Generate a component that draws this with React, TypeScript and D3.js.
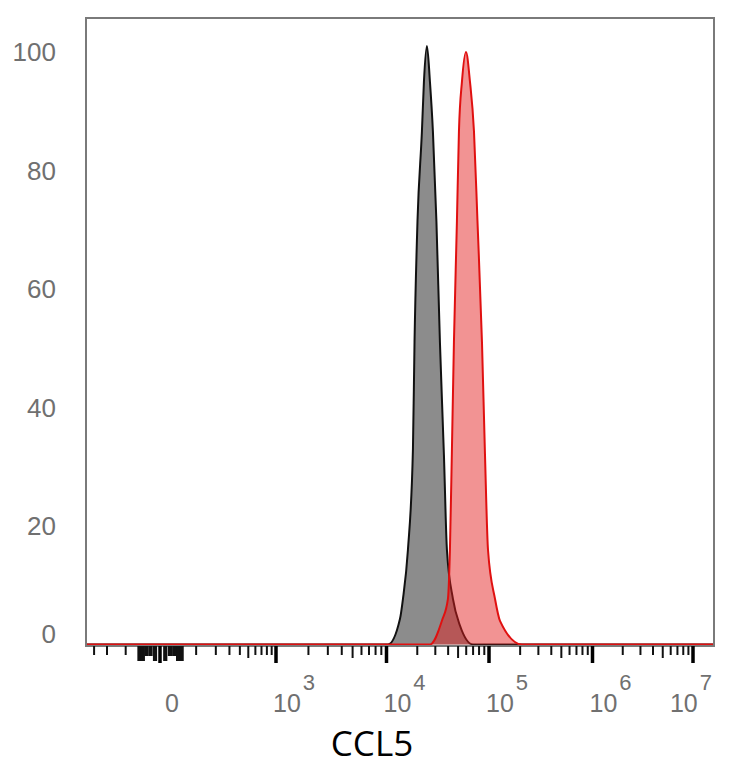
import { useMemo } from "react";
import * as d3 from "d3";

// Histogram outlines (fluorescence value, % of max)
const X_MIN = -380;
const X_MAX = 1.6e7;

const CONTROL_X = [X_MIN, 10340, 13540, 14490, 16210, 18140, 18800, 20100, 22200, 23230, 24850, 26580, 28420, 30740, 33270, 36390, 38920, 44550, 52130, 69830, X_MAX];
const CONTROL_Y = [0, 0, 4.3, 7.7, 16, 33, 51, 71.5, 86.6, 95, 101, 95, 86.6, 71.5, 51, 32, 16, 7.7, 3.2, 0, 0];

const CCL5_X = [X_MIN, 26580, 34780, 39810, 41640, 43550, 45550, 48730, 50970, 54530, 59650, 65260, 71400, 77210, 85440, 91410, 97770, 114300, 127700, 208400, X_MAX];
const CCL5_Y = [0, 0, 4, 7.7, 16, 33, 51, 71.5, 86.6, 95, 100, 95, 86.6, 71.5, 51, 32, 16, 7.7, 4, 0, 0];

const Y_TICKS = [0, 20, 40, 60, 80, 100];
const X_MAJOR = [0, 1e3, 1e4, 1e5, 1e6, 1e7];
const X_EXPONENTS = ["", "3", "4", "5", "6", "7"];
const X_NEAR_ZERO_LONG = [-50, -40, -10, 10, 40, 50];
const X_NEAR_ZERO_SHORT = [-30, -20, 20, 30];
const X_NEGATIVE = [-300, -200, -100];
const DECADE_STEPS = [2, 3, 4, 5, 6, 7, 8, 9];
const DECADES = [100, 1e3, 1e4, 1e5, 1e6];
const X_LABEL = "CCL5";

const W = 734;
const H = 768;
const F = { left: 86, top: 18, right: 714, bottom: 646 };
// pixel offsets (from frame left) of the scale's calibration values
const X_CAL = [X_MIN, 0, 1e3, 1e4, 1e5, 1e6, 1e7];
const X_CAL_POS = [0, 74, 190, 300.5, 403, 506.5, 607];

export default function App() {
  const sym = useMemo(() => d3.scaleSymlog().constant(80).domain([0, 1]).range([0, 1]), []);
  const lin = useMemo(
    () => d3.scaleLinear().domain(X_CAL.map((v) => sym(v))).range(X_CAL_POS.map((p) => F.left + p)),
    [sym]
  );
  const x = (v: number) => lin(sym(v));
  const y = useMemo(() => d3.scaleLinear().domain([0, 100]).range([644.5, 52]), []);

  const series = [
    { key: "ctrl", xs: CONTROL_X, ys: CONTROL_Y, fill: "#8c8c8c", fillOpacity: 1, stroke: "#111" },
    { key: "ccl5", xs: CCL5_X, ys: CCL5_Y, fill: "rgb(228,30,30)", fillOpacity: 0.48, stroke: "#e01010" },
  ];

  const area = d3
    .area<[number, number]>()
    .x((d) => x(d[0]))
    .y0(y(0))
    .y1((d) => y(d[1]))
    .curve(d3.curveMonotoneX);
  const line = d3
    .line<[number, number]>()
    .x((d) => x(d[0]))
    .y((d) => y(d[1]))
    .curve(d3.curveMonotoneX);

  const minor: { v: number; len: number; w: number }[] = [];
  X_NEGATIVE.forEach((v) => minor.push({ v, len: 9, w: 2 }));
  X_NEAR_ZERO_LONG.forEach((v) => minor.push({ v, len: 15, w: 4.2 }));
  X_NEAR_ZERO_SHORT.forEach((v) => minor.push({ v, len: 10, w: 4.2 }));
  minor.push({ v: 100, len: 9, w: 2 });
  DECADES.forEach((d) =>
    DECADE_STEPS.forEach((s) => {
      if (d === 100 || s * d < 1e7) minor.push({ v: s * d, len: s === 5 ? 12 : 9, w: 2 });
    })
  );

  const tickFont = "'Liberation Sans', Arial, sans-serif";

  return (
    <svg width={W} height={H} style={{ position: "absolute", left: 0, top: 0, background: "#fff" }}>
      <defs>
        <clipPath id="plot">
          <rect x={F.left} y={F.top} width={F.right - F.left} height={F.bottom - F.top} />
        </clipPath>
      </defs>

      <g clipPath="url(#plot)">
        {series.map((s) => {
          const pts = s.xs.map((v, i) => [v, s.ys[i]] as [number, number]);
          return (
            <g key={s.key}>
              <path d={area(pts) ?? ""} fill={s.fill} fillOpacity={s.fillOpacity} />
              <path d={line(pts) ?? ""} fill="none" stroke={s.stroke} strokeWidth={2} strokeLinejoin="round" />
            </g>
          );
        })}
      </g>

      {/* frame */}
      <rect
        x={F.left}
        y={F.top}
        width={F.right - F.left}
        height={F.bottom - F.top}
        fill="none"
        stroke="#7a7a7a"
        strokeWidth={2}
      />

      {/* y labels */}
      {Y_TICKS.map((t) => (
        <text
          key={t}
          x={56}
          y={Math.min(y(t), F.bottom - 12)}
          textAnchor="end"
          dominantBaseline="central"
          fontFamily={tickFont}
          fontSize={26}
          fill="#707070"
        >
          {t}
        </text>
      ))}

      {/* x ticks */}
      {minor.map((t, i) => (
        <line
          key={"m" + i}
          x1={x(t.v)}
          x2={x(t.v)}
          y1={F.bottom}
          y2={F.bottom + t.len}
          stroke="#111"
          strokeWidth={t.w}
        />
      ))}
      {X_MAJOR.map((v) => (
        <line key={"M" + v} x1={x(v)} x2={x(v)} y1={F.bottom} y2={F.bottom + 17} stroke="#000" strokeWidth={3.5} />
      ))}

      {/* x labels */}
      {X_MAJOR.map((v, i) => {
        const exp = X_EXPONENTS[i];
        if (!exp) {
          return (
            <text key={"L" + v} x={x(v) + 5} y={712} fontFamily={tickFont} fontSize={25} fill="#707070">
              0
            </text>
          );
        }
        const last = i === X_MAJOR.length - 1;
        return (
          <text
            key={"L" + v}
            x={last ? F.right - 2 : x(v) - 3}
            y={712}
            textAnchor={last ? "end" : "start"}
            fontFamily={tickFont}
            fontSize={25}
            fill="#707070"
          >
            10
            <tspan dx={2} dy={-22} fontSize={22}>
              {exp}
            </tspan>
          </text>
        );
      })}

      <text
        x={372}
        y={756}
        textAnchor="middle"
        fontFamily="'Open Sans', 'Noto Sans', sans-serif"
        fontSize={35}
        fill="#000"
      >
        {X_LABEL}
      </text>
    </svg>
  );
}
